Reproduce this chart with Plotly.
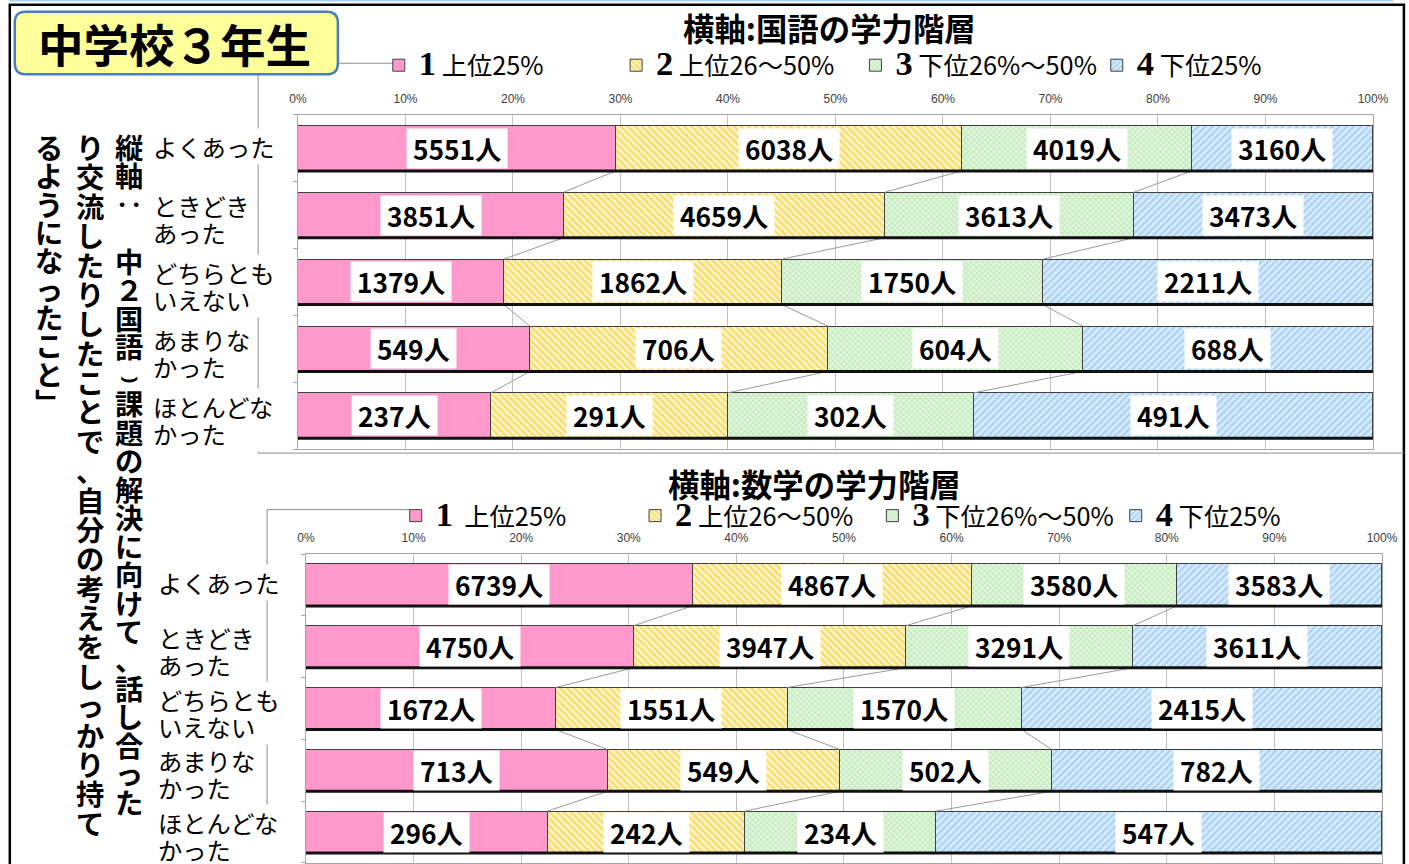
import plotly.graph_objects as go

W, H = 1409, 864
# empirical correction between page pixels and the photographed picture
SX, OX = 0.985, 7.2
SY, OY = 0.989, 3.4
FS = 1.012  # font scale to offset the slight shrink

# ---------------- data ----------------
categories = ["よくあった", "ときどき\nあった", "どちらとも\nいえない", "あまりな\nかった", "ほとんどな\nかった"]
tier_numbers = ["1", "2", "3", "4"]
tier_names = ["上位25%", "上位26～50%", "下位26%～50%", "下位25%"]
tick_values = [0, 10, 20, 30, 40, 50, 60, 70, 80, 90, 100]
tick_labels = ["0%", "10%", "20%", "30%", "40%", "50%", "60%", "70%", "80%", "90%", "100%"]

kokugo_tier1 = [5551, 3851, 1379, 549, 237]
kokugo_tier2 = [6038, 4659, 1862, 706, 291]
kokugo_tier3 = [4019, 3613, 1750, 604, 302]
kokugo_tier4 = [3160, 3473, 2211, 688, 491]

sugaku_tier1 = [6739, 4750, 1672, 713, 296]
sugaku_tier2 = [4867, 3947, 1551, 549, 242]
sugaku_tier3 = [3580, 3291, 1570, 502, 234]
sugaku_tier4 = [3583, 3611, 2415, 782, 547]

title_top = "横軸:国語の学力階層"
title_bottom = "横軸:数学の学力階層"
grade_label = "中学校３年生"
vertical_columns = [
    "縦軸‥　中２国語⌣課題の解決に向けて、話し合った",
    "り交流したりしたことで、自分の考えをしっかり持て",
    "るようになったこと﹂",
]
unit = "人"

# ---------------- styles ----------------
JP = "Noto Sans CJK JP"
tier_styles = [
    dict(color="#FF99CC", pattern=dict(shape="")),
    dict(color="#FFF3C4", pattern=dict(shape="\\", fgcolor="#F5C400", bgcolor="#FFF6D2", size=5, solidity=0.5)),
    dict(color="#D8F2D2", pattern=dict(shape="x", fgcolor="#8AD184", bgcolor="#DDF5D8", size=4, solidity=0.3)),
    dict(color="#D3E9FF", pattern=dict(shape="/", fgcolor="#7FB7EC", bgcolor="#DAEDFF", size=5, solidity=0.5)),
]


def px(x):
    return ((x - OX) / SX) / W


def py(y):
    return 1 - ((y - OY) / SY) / H


def fs(v):
    return round(v * FS, 1)


charts = [
    dict(data=[kokugo_tier1, kokugo_tier2, kokugo_tier3, kokugo_tier4], xa="x", ya="y",
         xdom=(297, 1375), ydom=(117, 448), legend_left=[392, 630, 870, 1112], legend_y=68,
         label_x=151, title=title_top, title_pos=(830, 31), legends=["legend", "legend2", "legend3", "legend4"]),
    dict(data=[sugaku_tier1, sugaku_tier2, sugaku_tier3, sugaku_tier4], xa="x2", ya="y2",
         xdom=(305, 1384), ydom=(552, 862), legend_left=[409, 649, 887, 1131], legend_y=514,
         label_x=156, title=title_bottom, title_pos=(815, 482), legends=["legend5", "legend6", "legend7", "legend8"]),
]

BAR_W = 0.68
HW = BAR_W / 2
fig = go.Figure()
annotations = []
layout_extra = {}

for ci, ch in enumerate(charts):
    rows = list(range(len(categories)))
    totals = [sum(s[i] for s in ch["data"]) for i in rows]
    pcts = [[s[i] / totals[i] * 100 for i in rows] for s in ch["data"]]
    cum = [[0.0] * len(rows)]
    for k in range(4):
        cum.append([cum[-1][i] + pcts[k][i] for i in rows])

    for k in range(4):
        st = tier_styles[k]
        name = (f"<span style='font-family:Liberation Serif;font-size:{fs(34)}px;font-weight:bold'>{tier_numbers[k]}</span>"
                f"{'  ' if (ci == 1 and k == 0) else ' '}{tier_names[k]}")
        fig.add_trace(go.Bar(
            x=pcts[k], y=rows, orientation="h", width=BAR_W,
            xaxis=ch["xa"], yaxis=ch["ya"],
            marker=dict(color=st["color"], pattern=st["pattern"], line=dict(color="#404040", width=1)),
            name=name, legend=ch["legends"][k], hoverinfo="skip",
        ))
        for i in rows:
            annotations.append(dict(
                x=cum[k][i] + pcts[k][i] / 2, y=i, xref=ch["xa"], yref=ch["ya"],
                text=f"\u00a0{ch['data'][k][i]}{unit}\u00a0", showarrow=False,
                font=dict(family=JP, size=fs(26), color="black", weight="bold"),
                bgcolor="white", borderpad=0, xanchor="center", yanchor="middle",
            ))

    # series (connector) lines between consecutive bars
    cx, cy = [], []
    for k in range(1, 4):
        for i in rows[:-1]:
            cx += [cum[k][i], cum[k][i + 1], None]
            cy += [i + HW, i + 1 - HW, None]
    fig.add_trace(go.Scatter(x=cx, y=cy, mode="lines", line=dict(color="#9A9A9A", width=1),
                             xaxis=ch["xa"], yaxis=ch["ya"], showlegend=False, hoverinfo="skip"))
    # bar bottom shadows
    sx, sy = [], []
    for i in rows:
        sx += [0, 100, None]
        sy += [i + HW, i + HW, None]
    fig.add_trace(go.Scatter(x=sx, y=sy, mode="lines", line=dict(color="#111111", width=3),
                             xaxis=ch["xa"], yaxis=ch["ya"], showlegend=False, hoverinfo="skip"))

    # category labels
    for i, lab in enumerate(categories):
        lines = lab.split("\n")
        txt = "<br>".join(f"<span style='font-size:{fs(24)}px'>{ln}</span>" for ln in lines)
        annotations.append(dict(
            x=px(ch["label_x"]), y=i, xref="paper", yref=ch["ya"], text=txt, showarrow=False,
            font=dict(family=JP, size=20.8, color="black"), align="left",
            xanchor="left", yanchor="middle", bgcolor="white", borderpad=0,
            yshift=2 if len(lines) == 1 else -4,
        ))

    # title
    annotations.append(dict(
        x=px(ch["title_pos"][0]), y=py(ch["title_pos"][1]), xref="paper", yref="paper",
        text=ch["title"], showarrow=False, font=dict(family=JP, size=fs(31), color="black", weight="bold"),
        xanchor="center", yanchor="middle",
    ))

    # axes
    xname = "xaxis" if ci == 0 else "xaxis2"
    yname = "yaxis" if ci == 0 else "yaxis2"
    layout_extra[xname] = dict(
        domain=[px(ch["xdom"][0]), px(ch["xdom"][1])], range=[0, 100], anchor=ch["ya"], side="top",
        tickvals=tick_values, ticktext=tick_labels, showgrid=True, gridcolor="#C0C0C0", gridwidth=1,
        showline=True, linecolor="#A6A6A6", mirror=True, ticks="", zeroline=False, fixedrange=True,
        tickfont=dict(family="Liberation Sans", size=12, color="#404040"), ticklabelstandoff=6,
    )
    layout_extra[yname] = dict(
        domain=[max(0, py(ch["ydom"][1])), min(1, py(ch["ydom"][0]))], range=[4.5, -0.5], anchor=ch["xa"],
        showticklabels=False, tickvals=[r - 0.5 for r in range(len(categories) + 1)], ticks="outside",
        ticklen=4, tickcolor="#A6A6A6", showgrid=False, showline=True, linecolor="#A6A6A6",
        mirror=True, zeroline=False, fixedrange=True,
    )

    # legends, one per tier
    for k in range(4):
        layout_extra[ch["legends"][k]] = dict(
            x=px(ch["legend_left"][k] - 14), y=py(ch["legend_y"]), xanchor="left", yanchor="middle",
            orientation="h", bgcolor="rgba(0,0,0,0)", borderwidth=0,
            font=dict(family=JP, size=fs(25), color="black"), itemclick=False, itemdoubleclick=False,
        )

# vertical text (right-to-left columns), one text per column
col_x = [128, 88, 47]
col_base = [21.9, 22.6, 21.8]
for col, cx_, base in zip(vertical_columns, col_x, col_base):
    txt = "<br>".join(f"<span style='font-size:{fs(28)}px'>{c}</span>" for c in col)
    annotations.append(dict(
        x=px(cx_), y=py(126), xref="paper", yref="paper", text=txt, showarrow=False,
        font=dict(family=JP, size=base, color="black", weight="bold"),
        xanchor="center", yanchor="top", align="center",
    ))

# grade label
annotations.append(dict(
    x=px(173), y=py(46), xref="paper", yref="paper", text=grade_label, showarrow=False,
    font=dict(family=JP, size=fs(45), color="black", weight="bold"), xanchor="center", yanchor="middle",
))


def rounded_rect(x0, y0, x1, y1, r):
    pts = [
        f"M{px(x0 + r)},{py(y0)}", f"L{px(x1 - r)},{py(y0)}", f"Q{px(x1)},{py(y0)} {px(x1)},{py(y0 + r)}",
        f"L{px(x1)},{py(y1 - r)}", f"Q{px(x1)},{py(y1)} {px(x1 - r)},{py(y1)}",
        f"L{px(x0 + r)},{py(y1)}", f"Q{px(x0)},{py(y1)} {px(x0)},{py(y1 - r)}",
        f"L{px(x0)},{py(y0 + r)}", f"Q{px(x0)},{py(y0)} {px(x0 + r)},{py(y0)}", "Z",
    ]
    return " ".join(pts)


GREY = "#8C8C8C"
shapes = [
    # top band
    dict(type="rect", xref="paper", yref="paper", x0=0, x1=1, y0=py(5), y1=1,
         fillcolor="#A9D1F5", line=dict(width=0), layer="below"),
    # outer frame
    dict(type="rect", xref="paper", yref="paper", x0=px(8), x1=px(1406), y0=py(880), y1=py(8),
         line=dict(color="black", width=2.5), layer="below"),
    # chart area outlines (top chart)
    dict(type="line", xref="paper", yref="paper", x0=px(257), x1=px(257), y0=py(66), y1=py(452),
         line=dict(color=GREY, width=1), layer="below"),
    dict(type="line", xref="paper", yref="paper", x0=px(257), x1=px(1406), y0=py(452), y1=py(452),
         line=dict(color=GREY, width=1), layer="below"),
    dict(type="line", xref="paper", yref="paper", x0=px(337), x1=px(393), y0=py(66), y1=py(66),
         line=dict(color=GREY, width=1), layer="below"),
    # chart area outlines (bottom chart)
    dict(type="line", xref="paper", yref="paper", x0=px(266), x1=px(266), y0=py(508), y1=py(864),
         line=dict(color=GREY, width=1), layer="below"),
    dict(type="line", xref="paper", yref="paper", x0=px(266), x1=px(410), y0=py(508), y1=py(508),
         line=dict(color=GREY, width=1), layer="below"),
    # grade box
    dict(type="path", xref="paper", yref="paper", path=rounded_rect(13, 15, 337, 77, 11),
         fillcolor="#FFFF99", line=dict(color="#4A7EBB", width=2.5), layer="above"),
]

fig.update_layout(
    width=W, height=H, autosize=False, margin=dict(l=0, r=0, t=0, b=0, pad=0),
    paper_bgcolor="white", plot_bgcolor="white", barmode="stack", bargap=0.32,
    showlegend=True, annotations=annotations, shapes=shapes, **layout_extra,
)

fig.write_html("out.html", include_plotlyjs=True,
               config={"displayModeBar": False, "responsive": False},
               post_script="document.body.style.margin='0';document.body.style.overflow='hidden';")
